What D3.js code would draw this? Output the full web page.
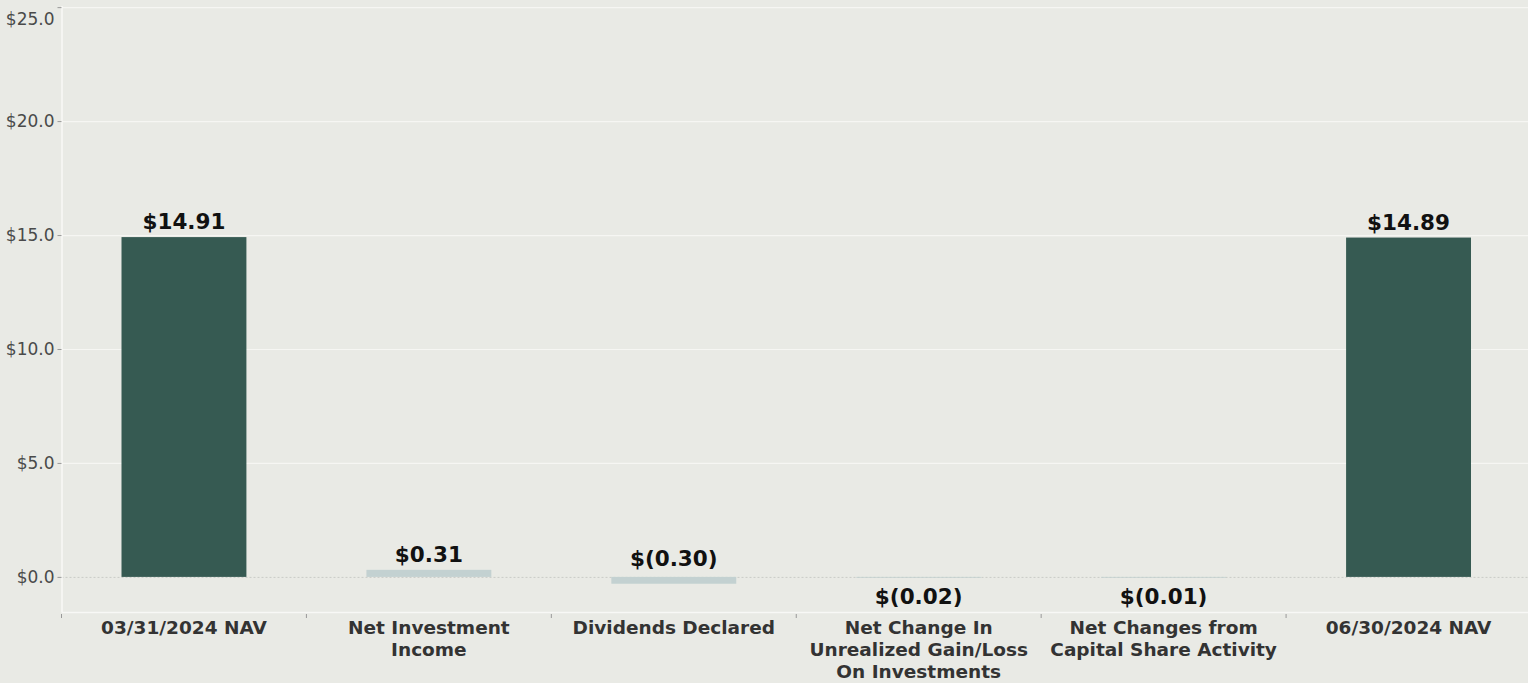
<!DOCTYPE html>
<html>
<head>
<meta charset="utf-8">
<script src="https://cdn.jsdelivr.net/npm/d3@7"></script>
<style>
  html, body { margin: 0; padding: 0; background: #e9eae5; overflow: hidden; }
  svg { display: block; font-family: "DejaVu Sans", sans-serif; }
</style>
</head>
<body>
<div id="holder"></div>
<script>
// chart data
var categories = [
  "03/31/2024 NAV",
  "Net Investment\nIncome",
  "Dividends Declared",
  "Net Change In\nUnrealized Gain/Loss\nOn Investments",
  "Net Changes from\nCapital Share Activity",
  "06/30/2024 NAV"
];
var values = [14.91, 0.31, -0.30, -0.02, -0.01, 14.89];
var isTotal = [true, false, false, false, false, true];
var valueLabels = ["$14.91", "$0.31", "$(0.30)", "$(0.02)", "$(0.01)", "$14.89"];
var yTicks = [0, 5, 10, 15, 20, 25];

var WIDTH = 1528, HEIGHT = 683,
    MARGINS = { top: 6, right: -3, bottom: 71, left: 61.5 };

var svg = d3.select("#holder").append("svg")
  .attr("width", WIDTH)
  .attr("height", HEIGHT);

var x = d3.scaleBand()
  .domain(d3.range(categories.length))
  .range([MARGINS.left, WIDTH - MARGINS.right])
  .padding(0);

var y = d3.scaleLinear()
  .domain([-1.54, 25.05])
  .range([HEIGHT - MARGINS.bottom, MARGINS.top]);

var barW = x.bandwidth() * 0.51;

// gridlines
svg.append("g").selectAll("line")
  .data(yTicks.filter(function(d) { return d !== 0; }))
  .join("line")
  .attr("x1", MARGINS.left).attr("x2", WIDTH)
  .attr("y1", function(d) { return y(d) + 0.5; })
  .attr("y2", function(d) { return y(d) + 0.5; })
  .attr("stroke", "#f6f6f3")
  .attr("stroke-width", 1.2);

// zero line
svg.append("line")
  .attr("x1", MARGINS.left).attr("x2", WIDTH)
  .attr("y1", y(0) + 0.5).attr("y2", y(0) + 0.5)
  .attr("stroke", "#c9cbc6")
  .attr("stroke-dasharray", "2,2")
  .attr("stroke-width", 1);

// bars
svg.append("g").selectAll("rect")
  .data(values)
  .join("rect")
  .attr("x", function(d, i) { return x(i) + (x.bandwidth() - barW) / 2; })
  .attr("width", barW)
  .attr("y", function(d) { return y(Math.max(0, d)); })
  .attr("height", function(d) { return Math.max(0.8, Math.abs(y(d) - y(0))); })
  .attr("fill", function(d, i) { return isTotal[i] ? "#365a52" : "#c3d1d1"; });

// value labels
svg.append("g").selectAll("text")
  .data(values)
  .join("text")
  .attr("x", function(d, i) { return x(i) + x.bandwidth() / 2; })
  .attr("y", function(d) {
    if (d >= 0) return y(d) - 8;
    if (Math.abs(d) >= 0.1) return y(0) - 11;
    return y(d) + 27;
  })
  .attr("text-anchor", "middle")
  .attr("font-size", "21.5px")
  .attr("font-weight", "bold")
  .attr("fill", "#111")
  .text(function(d, i) { return valueLabels[i]; });

// y axis
var yAxis = svg.append("g")
  .attr("transform", "translate(" + MARGINS.left + ",0)")
  .call(d3.axisLeft(y)
    .tickValues(yTicks)
    .tickSize(4)
    .tickPadding(3)
    .tickFormat(function(d) { return "$" + d3.format(".1f")(d); }));
yAxis.select(".domain").attr("stroke", "#f8f8f6").attr("stroke-width", 1.5)
  .attr("d", "M0.5," + MARGINS.top + "V" + (HEIGHT - MARGINS.bottom));
yAxis.selectAll(".tick line").attr("stroke", "#999");
yAxis.selectAll(".tick text")
  .attr("font-size", "17px")
  .attr("font-family", "DejaVu Sans, sans-serif")
  .attr("fill", "#4a4a4a")
  .attr("dy", function(d) { return d === 25 ? "1.0em" : "0.32em"; });

// x axis
var xTicks = d3.range(categories.length);
var xAxisG = svg.append("g")
  .attr("transform", "translate(0," + (HEIGHT - MARGINS.bottom) + ")");
xAxisG.append("line")
  .attr("x1", MARGINS.left).attr("x2", WIDTH)
  .attr("y1", 0.5).attr("y2", 0.5)
  .attr("stroke", "#f8f8f6").attr("stroke-width", 1.5);
xAxisG.selectAll(".xtick")
  .data(xTicks)
  .join("line")
  .attr("class", "xtick")
  .attr("x1", function(d) { return x(d); })
  .attr("x2", function(d) { return x(d); })
  .attr("y1", 2).attr("y2", 6)
  .attr("stroke", "#999");

xAxisG.selectAll(".xlabel")
  .data(categories)
  .join("text")
  .attr("class", "xlabel")
  .attr("text-anchor", "middle")
  .attr("font-size", "18.5px")
  .attr("font-weight", "bold")
  .attr("fill", "#333")
  .each(function(d, i) {
    var lines = d.split("\n");
    var t = d3.select(this);
    lines.forEach(function(s, j) {
      t.append("tspan")
        .attr("x", x(i) + x.bandwidth() / 2)
        .attr("y", 22 + j * 22)
        .text(s);
    });
  });
</script>
</body>
</html>
